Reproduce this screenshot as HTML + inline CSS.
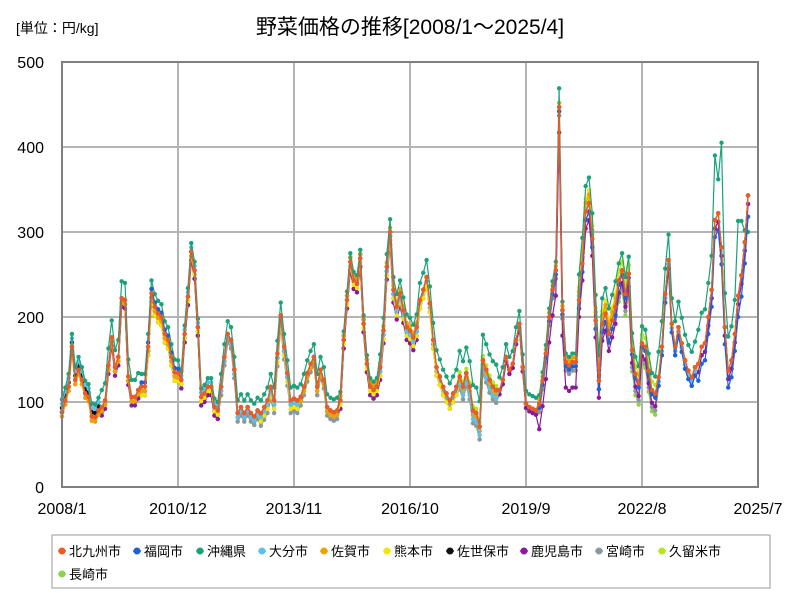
<!DOCTYPE html>
<html><head><meta charset="utf-8"><style>
body{margin:0;background:#fff;}
svg text{font-family:"Liberation Sans","Noto Sans CJK JP",sans-serif;}
</style></head><body>
<svg id="chart" width="800" height="600" viewBox="0 0 800 600">
<rect x="0" y="0" width="800" height="600" fill="#fff"/>
<text x="16" y="33" font-size="14">[単位：円/kg]</text>
<text x="410" y="34" font-size="21" text-anchor="middle">野菜価格の推移[2008/1～2025/4]</text>
<g id="grid"></g>
<g id="series"></g>
<g id="axes"></g>
<g id="legend"></g>
</svg>
<script>
const yTicks=[0,100,200,300,400,500];
const xTickLabels=["2008/1","2010/12","2013/11","2016/10","2019/9","2022/8","2025/7"];
const xTickMonths=[0,35,70,105,140,175,210];
const seriesNames=["北九州市","福岡市","沖縄県","大分市","佐賀市","熊本市","佐世保市","鹿児島市","宮崎市","久留米市","長崎市"];
const seriesColors=["#f05a1e","#1f5fd8","#1aa37a","#5bc0eb","#f0a000","#f5e600","#111111","#8b1a9b","#8a96a0","#b5e61d","#8fd14f"];
const baseValues=[88,102,118,165,126,138,126,110,106,83,82,90,
94,102,143,176,141,153,222,220,130,106,106,114,
118,118,165,228,212,204,200,180,173,153,135,134,
126,180,224,277,255,188,106,110,118,118,94,90,
118,153,180,173,138,87,94,87,94,87,83,90,
87,94,102,118,102,157,202,165,134,102,104,102,
106,118,134,145,153,118,138,126,94,90,88,90,
102,173,220,265,243,239,269,192,145,118,114,118,
141,184,259,300,232,212,228,208,188,184,176,188,
220,232,247,216,173,141,130,118,110,102,110,118,
130,118,134,118,90,87,71,149,138,126,118,114,
114,126,153,138,145,173,192,141,98,94,92,90,
98,125,157,200,232,255,447,208,147,143,147,147,
220,263,324,334,292,196,125,192,204,180,196,212,
243,255,227,251,161,133,122,169,165,137,114,110,
129,165,227,267,192,165,188,169,149,137,129,141,
145,165,169,200,232,314,322,282,188,137,149,180,
225,249,288,343];
const offFukuoka=[0,0,5,0,0,0,0,0,0,0,0,0,-5,-10,-5,-10,-20,-25];
const offOkinawa=[15,20,15,10,15,15,15,10,15,20,30,15,10,30,20,30,40,30];
const offOita=[10,0,0,5,-5,-5,0,0,-5,0,-10,0,-5,0,0,-5,0,0];
const offSaga=[-5,-5,-5,0,-5,-5,-5,5,5,0,-5,0,5,10,0,0,0,0];
const offKumamoto=[0,-5,-10,-5,-5,-10,-5,-5,-10,-10,-10,0,-5,15,20,0,0,0];
const offSasebo=[5,-5,-10,-5,0,-5,0,5,-5,0,0,0,0,0,0,0,0,0];
const offKagoshima=[0,-10,-5,-10,-5,-5,-5,-10,-15,-10,-5,-5,-30,-20,-15,-5,-10,-10];
const offMiyazaki=[-5,-5,-5,-10,-10,-15,-10,-10,-10,-5,-15,-5,-10,-10,-20,-10,-10,-10];
const offKurume=[0,0,5,0,-5,-5,-5,0,0,0,5,0,-5,5,10,0,0,0];
const offNagasaki=[0,-5,-10,-10,-10,-10,-10,-10,-10,-10,-15,-5,-10,-10,-25,-10,0,0];
const okinawaPeaks={150:469,197:390,199:405,204:313,205:313,206:302,207:300};
const offsets=[null,offFukuoka,offOkinawa,offOita,offSaga,offKumamoto,offSasebo,offKagoshima,offMiyazaki,offKurume,offNagasaki];

const NS="http://www.w3.org/2000/svg";
const X0=62,X1=758,Y0=487,Y1=62;
function xScale(m){return X0+(X1-X0)*m/210;}
function yScale(v){return Y0-(Y0-Y1)*v/500;}
function mk(tag,attrs,parent){const e=document.createElementNS(NS,tag);for(const k in attrs)e.setAttribute(k,attrs[k]);parent.appendChild(e);return e;}
const grid=document.getElementById('grid'),axes=document.getElementById('axes'),sg=document.getElementById('series'),lg=document.getElementById('legend');

yTicks.forEach(t=>{
  const l=mk('line',{x1:X0,x2:X1,y1:yScale(t),y2:yScale(t),stroke:'#b4b4b4','stroke-width':2},grid);
  
  
  const tx=mk('text',{x:44,y:yScale(t)+6,'font-size':16,'text-anchor':'end'},axes);
  tx.textContent=t;
  
  
});
xTickMonths.forEach((m,i)=>{
  const l=mk('line',{x1:xScale(m),x2:xScale(m),y1:Y1,y2:Y0,stroke:'#b4b4b4','stroke-width':2},grid);
  
  
  const tx=mk('text',{x:xScale(m),y:514,'font-size':16,'text-anchor':'middle'},axes);
  tx.textContent=xTickLabels[i];
  
  
});
const frame=mk('rect',{x:X0,y:Y1,width:X1-X0,height:Y0-Y1,fill:'none',stroke:'#808080','stroke-width':2},axes);



function seriesValues(s){
  return baseValues.map((v,i)=>{
    let val=v+(offsets[s]?offsets[s][Math.floor(i/12)]:0);
    if(s===2&&okinawaPeaks[i]!==undefined)val=okinawaPeaks[i];
    return Math.max(0,val);
  });
}
for(let s=seriesNames.length-1;s>=0;s--){
  const vals=seriesValues(s);
  const g=mk('g',{},sg);
  
  
  const pts=vals.map((v,i)=>xScale(i).toFixed(1)+','+yScale(v).toFixed(1)).join(' ');
  const pl=mk('polyline',{points:pts,fill:'none',stroke:seriesColors[s],'stroke-width':1.2},g);
  
  
  vals.forEach((v,i)=>{
    const c=mk('circle',{cx:xScale(i),cy:yScale(v),r:2.2,fill:seriesColors[s]},g);
    
    
  });
}
const box=mk('rect',{x:52,y:535,width:718,height:53,fill:'#fff',stroke:'#999','stroke-width':1},lg);


const legX=[58,133,196,258,320,383,446,520,595,658,58];
seriesNames.forEach((n,i)=>{
  const y=i<10?551:574;
  const g=mk('g',{},lg);
  
  
  mk('line',{x1:legX[i],x2:legX[i]+8,y1:y,y2:y,stroke:seriesColors[i],'stroke-width':1.3},g);
  mk('circle',{cx:legX[i]+4,cy:y,r:3.5,fill:seriesColors[i]},g);
  const t=mk('text',{x:legX[i]+11,y:y+5,'font-size':13},g);
  t.textContent=n;
});
</script>
</body></html>
